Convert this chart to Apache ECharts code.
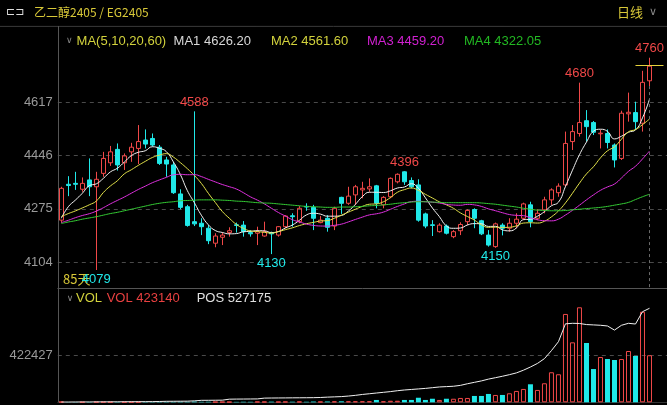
<!DOCTYPE html>
<html><head><meta charset="utf-8">
<script src="https://cdn.jsdelivr.net/npm/echarts@6/dist/echarts.min.js"></script>
<style>html,body{margin:0;padding:0;background:#000;}#c{width:667px;height:405px;}</style>
</head><body><div id="c"></div>
<script>
// ---- data ----
const opens = [4239,4354,4357,4338,4368,4346,4389,4423,4466,4423,
 4458,4469,4496,4501,4473,4432,4416,4323,4282,4234,
 4229,4213,4165,4184,4199,4224,4223,4199,4197,4188,
 4199,4191,4218,4253,4234,4283,4280,4231,4245,4220,
 4312,4293,4320,4336,4339,4349,4288,4314,4362,4394,
 4366,4352,4259,4224,4202,4220,4186,4205,4234,4273,
 4237,4191,4154,4223,4213,4229,4245,4288,4245,4272,
 4304,4327,4352,4491,4517,4558,4552,4516,4517,4480,
 4437,4580,4584,4550,4686];
const closes = [4341,4350,4354,4357,4346,4370,4437,4458,4416,4445,
 4473,4491,4483,4480,4421,4419,4327,4280,4222,4227,
 4218,4173,4188,4191,4205,4222,4202,4195,4202,4202,
 4195,4218,4252,4250,4277,4281,4245,4239,4216,4277,
 4293,4316,4346,4341,4346,4293,4312,4373,4386,4362,
 4346,4239,4220,4222,4223,4197,4202,4225,4270,4245,
 4195,4159,4227,4213,4229,4242,4291,4234,4261,4304,
 4336,4348,4485,4523,4552,4539,4521,4518,4488,4432,
 4582,4585,4555,4681,4733];
const lows = [4231,4316,4336,4330,4316,4079,4378,4413,4398,4400,
 4426,4419,4469,4475,4416,4378,4323,4274,4218,4220,
 4191,4162,4152,4159,4186,4199,4186,4186,4159,4186,
 4130,4186,4213,4218,4229,4269,4207,4229,4202,4207,
 4259,4288,4288,4309,4330,4277,4277,4309,4357,4352,
 4341,4234,4213,4188,4199,4193,4181,4191,4223,4213,
 4191,4154,4150,4190,4202,4213,4240,4216,4239,4261,
 4288,4314,4346,4464,4507,4491,4512,4469,4469,4408,
 4432,4555,4528,4523,4669];
const highs = [4346,4380,4394,4376,4437,4394,4458,4477,4485,4453,
 4487,4544,4530,4517,4480,4442,4426,4338,4288,4588,
 4245,4223,4197,4199,4216,4231,4236,4207,4218,4234,
 4202,4220,4255,4261,4284,4293,4288,4252,4255,4282,
 4314,4346,4352,4362,4373,4352,4316,4376,4389,4396,
 4376,4370,4263,4239,4229,4225,4207,4232,4274,4277,
 4240,4207,4231,4229,4245,4261,4295,4298,4274,4314,
 4341,4357,4523,4544,4680,4592,4557,4529,4530,4485,
 4590,4648,4619,4718,4760];
const volumes = [5000,1500,1800,2000,2500,3500,3000,2500,3000,2500,
 2500,3500,3000,2500,4000,4500,5000,5500,5000,7000,
 4500,5000,4000,4000,4500,4000,5000,4500,6000,5500,
 6000,5000,6000,5500,6500,5000,7000,6000,7500,8000,
 9000,8500,9000,9000,9500,21000,9000,14000,14000,21000,
 21000,41000,21000,32000,21000,32000,32000,39000,39000,57000,
 57000,75000,66000,66000,81000,102000,120000,162000,111000,171000,
 270000,252000,794000,539000,854000,533000,299000,407000,389000,380000,
 389000,461000,416000,814000,423140];
const positions = [1200,1500,1700,1900,2100,2300,2500,2700,2900,3100,
 3300,3500,3700,3900,4500,5500,5800,6000,6300,8000,
 11000,11200,11500,12000,17500,18000,18300,18600,19000,23500,
 24000,24300,24600,25000,25300,25600,26000,27000,29000,30500,
 32000,35000,39000,44000,48000,52000,56000,60000,65000,69000,
 72000,75000,78000,82000,86000,88000,90000,95000,104000,112000,
 120000,130000,138000,146000,155000,165000,180000,198000,218000,245000,
 290000,340000,440000,443000,442000,436000,434000,432000,428000,405000,
 432000,443000,439000,508000,527175];
const ma60 = [4228,4233,4237,4242,4246,4250,4255,4260,4264,4269,
 4274,4279,4284,4289,4293,4296,4298,4301,4302,4303,
 4304,4304,4304,4303,4302,4300,4299,4297,4295,4294,
 4293,4291,4289,4287,4285,4283,4282,4281,4280,4280,
 4281,4281,4282,4283,4285,4286,4288,4290,4293,4295,
 4297,4298,4298,4297,4296,4295,4295,4295,4295,4295,
 4294,4292,4290,4287,4284,4281,4277,4274,4271,4270,
 4269,4269,4270,4272,4274,4276,4278,4280,4283,4287,
 4291,4296,4305,4314,4322.05];
// closes before the first visible day (estimated, only for the MA warm-up)
const preCloses = [4200,4190,4215,4230,4205,4220,4210,4195,4225,4230,4250,4270,4260,4245,4250,4165,4249,4247,4223];
const priceTicks = [4104,4275,4446,4617];
const volTicks = [422427];
const highMarkIdx = [19,49,74,84];
const lowMarkIdx = [5,30,62];
const lastPriceLine = 4736;
const maLegend = ['MA1 4626.20','MA2 4561.60','MA3 4459.20','MA4 4322.05'];
const volLegend = ['VOL 423140','POS 527175'];
const padCount = 2;

// ---- styles ----
const RED = '#f04848', CYAN = '#20e8e8', GRAY = '#9a9a9a', GRID = '#4a4a4a', AXIS = '#555';
const C_MA5 = '#f2f2f2', C_MA10 = '#e2e24a', C_MA20 = '#e030e0', C_MA60 = '#34cc34';
const FONT = "'Liberation Sans', Arial, sans-serif";

const N = closes.length;
const cats = []; for (let i = 0; i < N + padCount; i++) cats.push(String(i + 1));
const candleData = opens.map((o, i) => [o, closes[i], lows[i], highs[i]]);
const allC = preCloses.concat(closes);
function ma(n) {
  return closes.map((_, i) => {
    const end = preCloses.length + i; let s = 0;
    for (let k = end - n + 1; k <= end; k++) s += allC[k];
    return +(s / n).toFixed(2);
  });
}
const volData = volumes.map((v, i) => ({
  value: v,
  itemStyle: closes[i] >= opens[i] ? { color: 'rgba(0,0,0,0)', borderColor: RED, borderWidth: 1 } : { color: CYAN }
}));
const markPts = highMarkIdx.map(i => ({ coord: [i, highs[i]], value: highs[i], label: { color: RED, offset: [0, -9] } }))
  .concat(lowMarkIdx.map(i => ({ coord: [i, lows[i]], value: lows[i], label: { color: CYAN, offset: [0, 9] } })));

const chart = echarts.init(document.getElementById('c'), null, { renderer: 'canvas' });
function txt(x, y, text, fill, size, family, align) {
  return { type: 'text', x: x, y: y, silent: true, style: { text: text, fill: fill, font: (size || 13) + 'px ' + (family || FONT), verticalAlign: 'middle', align: align || 'left' } };
}
chart.setOption({
  backgroundColor: '#000',
  animation: false,
  grid: [
    { left: 57.8, right: 0, top: 26.4, height: 261.9 },
    { left: 57.8, right: 0, top: 288.3, height: 114 }
  ],
  xAxis: [
    { type: 'category', gridIndex: 0, data: cats, boundaryGap: true,
      axisLine: { show: true, lineStyle: { color: AXIS } }, axisTick: { show: false }, axisLabel: { show: false }, splitLine: { show: false } },
    { type: 'category', gridIndex: 1, data: cats, boundaryGap: true,
      axisLine: { show: true, lineStyle: { color: '#333' } }, axisTick: { show: false }, axisLabel: { show: false }, splitLine: { show: false } }
  ],
  yAxis: [
    { type: 'value', gridIndex: 0, min: 4020.3, max: 4860.5, position: 'left',
      axisLine: { show: true, lineStyle: { color: AXIS } },
      axisTick: { show: false, customValues: priceTicks },
      axisLabel: { customValues: priceTicks, color: GRAY, fontSize: 13, fontFamily: FONT, margin: 5, formatter: v => String(v) },
      splitLine: { show: true, lineStyle: { color: GRID, type: [4, 4] } } },
    { type: 'value', gridIndex: 1, min: 0, max: 1024600, position: 'left',
      axisLine: { show: true, lineStyle: { color: AXIS } },
      axisTick: { show: false, customValues: volTicks },
      axisLabel: { customValues: volTicks, color: GRAY, fontSize: 13, fontFamily: FONT, margin: 5, formatter: v => String(v) },
      splitLine: { show: true, lineStyle: { color: GRID, type: [4, 4] } } },
    { type: 'value', gridIndex: 1, min: 0, max: 639300, show: false, splitLine: { show: false } }
  ],
  series: [
    { type: 'candlestick', xAxisIndex: 0, yAxisIndex: 0, data: candleData, barWidth: 5,
      itemStyle: { color: 'rgba(0,0,0,0)', color0: CYAN, borderColor: RED, borderColor0: CYAN, borderWidth: 1 },
      markPoint: { symbol: 'circle', symbolSize: 1, itemStyle: { color: 'rgba(0,0,0,0)' }, silent: true,
        label: { show: true, position: 'inside', fontSize: 13, fontFamily: FONT, formatter: p => String(p.value) },
        data: markPts },
      markLine: { symbol: ['none', 'none'], silent: true, label: { show: false },
        lineStyle: { color: '#e6d23c', width: 1, type: 'solid' },
        data: [
          [{ coord: [82, lastPriceLine] }, { coord: [86, lastPriceLine] }]
        ] } },
    { type: 'line', name: 'MA5', xAxisIndex: 0, yAxisIndex: 0, data: ma(5), showSymbol: false, smooth: true, lineStyle: { color: C_MA5, width: 1 } },
    { type: 'line', name: 'MA10', xAxisIndex: 0, yAxisIndex: 0, data: ma(10), showSymbol: false, smooth: true, lineStyle: { color: C_MA10, width: 1 } },
    { type: 'line', name: 'MA20', xAxisIndex: 0, yAxisIndex: 0, data: ma(20), showSymbol: false, smooth: true, lineStyle: { color: C_MA20, width: 1 } },
    { type: 'line', name: 'MA60', xAxisIndex: 0, yAxisIndex: 0, data: ma60, showSymbol: false, smooth: true, lineStyle: { color: C_MA60, width: 1 },
      markLine: { symbol: ['none', 'none'], silent: true, label: { show: false },
        lineStyle: { color: '#6a6a6a', width: 1, type: [3, 3] },
        data: [ [{ coord: [84, lows[84]] }, { coord: [84, 4021] }] ] } },
    { type: 'bar', xAxisIndex: 1, yAxisIndex: 1, data: volData, barWidth: 5 },
    { type: 'line', xAxisIndex: 1, yAxisIndex: 2, data: positions, showSymbol: false, lineStyle: { color: '#f0f0f0', width: 1 } }
  ],
  graphic: [
    { type: 'line', silent: true, shape: { x1: 0, y1: 26.4, x2: 667, y2: 26.4 }, style: { stroke: '#3a3a3a', lineWidth: 1 } },
    txt(6, 12.5, '⊏⊐', '#dddddd', 11, "'DejaVu Sans'"),
    txt(34, 12.5, '乙二醇2405 / EG2405', '#d8c838', 12, "'Noto Sans CJK SC'"),
    txt(617, 12.5, '日线', '#d8c838', 13, "'Noto Sans CJK SC'"),
    txt(649, 12.5, '∨', '#888', 11, "'DejaVu Sans'"),
    txt(66, 41, '∨', '#888', 9, "'DejaVu Sans'"),
    txt(76.6, 41, 'MA(5,10,20,60)', '#d2d23c', 13),
    txt(173.6, 41, maLegend[0], '#d8d8d8', 13),
    txt(271, 41, maLegend[1], '#d2d23c', 13),
    txt(367, 41, maLegend[2], '#d020d0', 13),
    txt(464, 41, maLegend[3], '#22b822', 13),
    txt(63, 279, '85天', '#d8c838', 13, "'Noto Sans CJK SC'"),
    txt(66.7, 298.3, '∨', '#888', 9, "'DejaVu Sans'"),
    txt(76, 298.3, 'VOL', '#d2d23c', 13),
    txt(106.7, 298.3, volLegend[0], '#e84040', 13),
    txt(196.7, 298.3, volLegend[1], '#e0e0e0', 13)
  ]
});
</script></body></html>
